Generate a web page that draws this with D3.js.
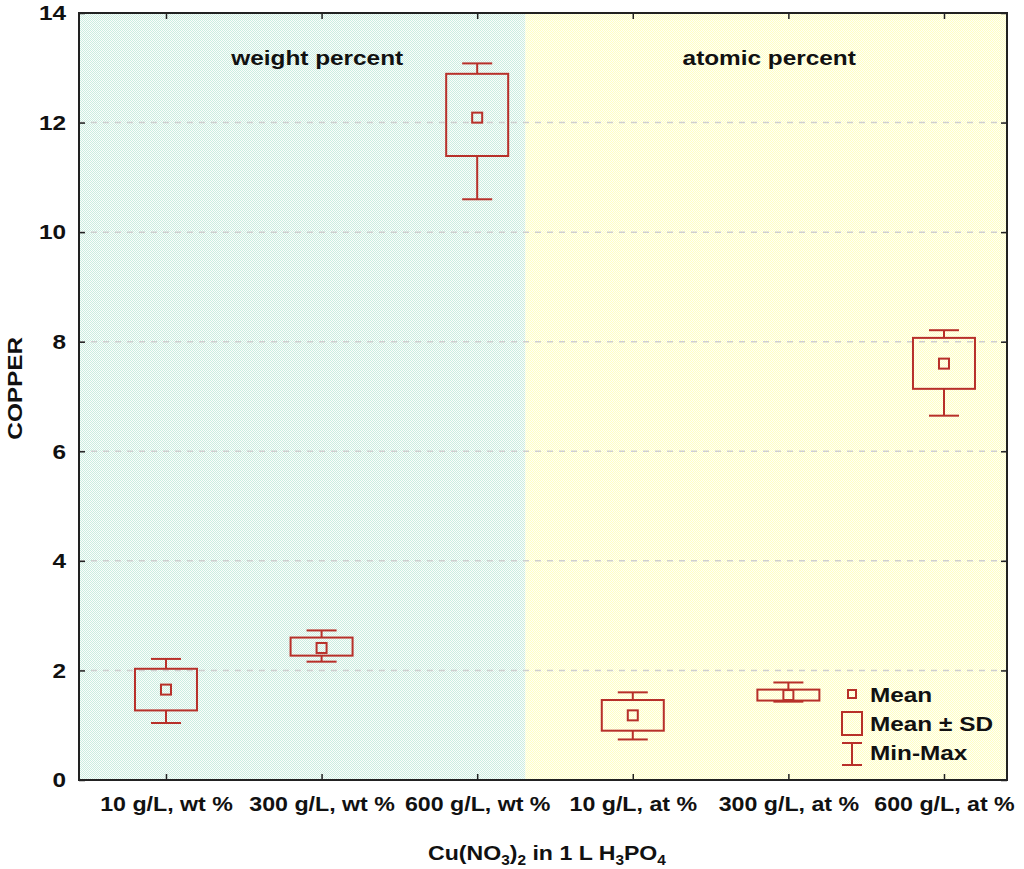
<!DOCTYPE html>
<html>
<head>
<meta charset="utf-8">
<script src="https://cdn.jsdelivr.net/npm/d3@7"></script>
<style>
  body { margin: 0; background: #fff; }
  text { font-family: "Liberation Sans", Arial, sans-serif; font-weight: bold; fill: #111; }
</style>
</head>
<body>
<div id="chart"></div>
<script>
// values
var categories = ["10 g/L, wt %", "300 g/L, wt %", "600 g/L, wt %", "10 g/L, at %", "300 g/L, at %", "600 g/L, at %"];
var means  = [1.65, 2.41, 12.09, 1.18, 1.55, 7.60];
var sdLow  = [1.27, 2.27, 11.39, 0.90, 1.45, 7.14];
var sdHigh = [2.03, 2.60, 12.89, 1.46, 1.65, 8.07];
var mins   = [1.04, 2.16, 10.60, 0.74, 1.43, 6.65];
var maxs   = [2.21, 2.73, 13.08, 1.60, 1.78, 8.21];
var yTicks = [0, 2, 4, 6, 8, 10, 12, 14];
var regions = [
  {name: "weight percent", from: 0.441, to: 3.31, fill: "url(#greenDots)"},
  {name: "atomic percent", from: 3.31, to: 6.405, fill: "url(#yellowDots)"}
];
var legendItems = ["Mean", "Mean \u00b1 SD", "Min-Max"];

var width = 1024, height = 869;
var margin = {left: 79, right: 17, top: 13, bottom: 89};
var red = "#b8302a";
var titleShift = [15, 3];
var stretch = 'scale(1.16,1)'; // the original lettering is wider than Liberation Sans

var svg = d3.select('#chart').append('svg')
  .attr('width', width)
  .attr('height', height);

var defs = svg.append('defs');
function dots(id, bg, fg) {
  var p = defs.append('pattern').attr('id', id)
    .attr('width', 2).attr('height', 2)
    .attr('patternUnits', 'userSpaceOnUse');
  p.append('rect').attr('width', 2).attr('height', 2).attr('fill', bg);
  p.append('rect').attr('width', 1).attr('height', 1).attr('fill', fg);
  p.append('rect').attr('x', 1).attr('y', 1).attr('width', 1).attr('height', 1).attr('fill', fg);
}
dots('greenDots', '#fafdfb', '#cbede0');
dots('yellowDots', '#fffff6', '#ffffc4');

var x = d3.scaleLinear().domain([0.441, 6.405]).range([margin.left, width - margin.right]);
var y = d3.scaleLinear().domain([0, 14]).range([height - margin.bottom, margin.top]);

// background regions
svg.selectAll('rect.region')
  .data(regions)
  .enter().append('rect')
  .attr('class', 'region')
  .attr('x', function(d) { return x(d.from); })
  .attr('y', y(14))
  .attr('width', function(d) { return x(d.to) - x(d.from); })
  .attr('height', y(0) - y(14))
  .attr('fill', function(d) { return d.fill; });

// grid
svg.append('g')
  .selectAll('line')
  .data(yTicks.filter(function(t) { return t > 0 && t < 14; }))
  .enter().append('line')
  .attr('x1', x.range()[0]).attr('x2', x.range()[1])
  .attr('y1', function(d) { return y(d); })
  .attr('y2', function(d) { return y(d); })
  .attr('stroke', '#cfcfcf')
  .attr('stroke-width', 1.5)
  .attr('stroke-dasharray', '6,6');

// region titles
svg.selectAll('text.region')
  .data(regions)
  .enter().append('text')
  .attr('class', 'region')
  .attr('transform', function(d, i) {
    return 'translate(' + ((x(d.from) + x(d.to)) / 2 + titleShift[i]) + ',' + y(13.05) + ') ' + stretch;
  })
  .attr('text-anchor', 'middle')
  .style('font-size', '21px')
  .text(function(d) { return d.name; });

// axes, ticks inside
var idx = d3.range(1, categories.length + 1);
var xAxis = d3.axisBottom(x).tickValues(idx).tickSize(-6).tickFormat(function(d) { return categories[d - 1]; });
var yAxis = d3.axisLeft(y).tickValues(yTicks).tickSize(-6).tickFormat(d3.format('d'));

var gx = svg.append('g').attr('transform', 'translate(0,' + y(0) + ')').call(xAxis);
gx.selectAll('text').attr('y', 0).attr('dy', 0)
  .attr('transform', 'translate(0,31) ' + stretch)
  .style('font-size', '20px');
var gy = svg.append('g').attr('transform', 'translate(' + x.range()[0] + ',0)').call(yAxis);
gy.selectAll('text').attr('x', 0)
  .attr('transform', 'translate(-13,0) ' + stretch)
  .style('font-size', '21px');
svg.append('g').attr('transform', 'translate(0,' + y(14) + ')')
  .call(d3.axisTop(x).tickValues(idx).tickSize(-6).tickFormat(''));
svg.append('g').attr('transform', 'translate(' + x.range()[1] + ',0)')
  .call(d3.axisRight(y).tickValues(yTicks).tickSize(-6).tickFormat(''));
svg.selectAll('.domain').remove();
svg.selectAll('.tick line').attr('stroke', '#222').attr('stroke-width', 1.5);
svg.selectAll('.tick text').attr('fill', '#111');

svg.append('rect')
  .attr('x', x.range()[0]).attr('y', y(14))
  .attr('width', x.range()[1] - x.range()[0])
  .attr('height', y(0) - y(14))
  .attr('fill', 'none')
  .attr('stroke', '#222')
  .attr('stroke-width', 2);

// boxes
var boxW = 62, capW = 30, meanS = 10;
var boxes = svg.append('g').selectAll('g')
  .data(idx)
  .enter().append('g')
  .attr('fill', 'none')
  .attr('stroke', red)
  .attr('stroke-width', 2);

boxes.append('line')
  .attr('x1', function(d) { return x(d); }).attr('x2', function(d) { return x(d); })
  .attr('y1', function(d) { return y(maxs[d - 1]); })
  .attr('y2', function(d) { return y(sdHigh[d - 1]); });
boxes.append('line')
  .attr('x1', function(d) { return x(d); }).attr('x2', function(d) { return x(d); })
  .attr('y1', function(d) { return y(sdLow[d - 1]); })
  .attr('y2', function(d) { return y(mins[d - 1]); });
boxes.append('line')
  .attr('x1', function(d) { return x(d) - capW / 2; }).attr('x2', function(d) { return x(d) + capW / 2; })
  .attr('y1', function(d) { return y(maxs[d - 1]); })
  .attr('y2', function(d) { return y(maxs[d - 1]); });
boxes.append('line')
  .attr('x1', function(d) { return x(d) - capW / 2; }).attr('x2', function(d) { return x(d) + capW / 2; })
  .attr('y1', function(d) { return y(mins[d - 1]); })
  .attr('y2', function(d) { return y(mins[d - 1]); });
boxes.append('rect')
  .attr('x', function(d) { return x(d) - boxW / 2; })
  .attr('y', function(d) { return y(sdHigh[d - 1]); })
  .attr('width', boxW)
  .attr('height', function(d) { return y(sdLow[d - 1]) - y(sdHigh[d - 1]); });
boxes.append('rect')
  .attr('x', function(d) { return x(d) - meanS / 2; })
  .attr('y', function(d) { return y(means[d - 1]) - meanS / 2; })
  .attr('width', meanS).attr('height', meanS);

// legend
var lg = svg.append('g').attr('transform', 'translate(852,694)');
var lgItems = lg.selectAll('g').data(legendItems).enter().append('g')
  .attr('transform', function(d, i) { return 'translate(18,' + (i * 29) + ') ' + stretch; });
lgItems.append('text')
  .attr('dy', '0.36em')
  .style('font-size', '21px')
  .text(function(d) { return d; });
lg.append('rect').attr('x', -4).attr('y', -4).attr('width', 8).attr('height', 8)
  .attr('fill', 'none').attr('stroke', red).attr('stroke-width', 2);
lg.append('rect').attr('x', -10).attr('y', 18).attr('width', 20).attr('height', 23)
  .attr('fill', 'none').attr('stroke', red).attr('stroke-width', 2);
lg.append('path').attr('d', 'M-10,49H10M0,49V71M-10,71H10')
  .attr('fill', 'none').attr('stroke', red).attr('stroke-width', 2);

// axis titles
var title = svg.append('text')
  .attr('transform', 'translate(' + ((x.range()[0] + x.range()[1]) / 2 + 4) + ',860) scale(1.1,1)')
  .attr('text-anchor', 'middle')
  .style('font-size', '21px');
title.append('tspan').text('Cu(NO');
title.append('tspan').attr('dy', 5).style('font-size', '14px').text('3');
title.append('tspan').attr('dy', -5).text(')');
title.append('tspan').attr('dy', 5).style('font-size', '14px').text('2');
title.append('tspan').attr('dy', -5).text(' in 1 L H');
title.append('tspan').attr('dy', 5).style('font-size', '14px').text('3');
title.append('tspan').attr('dy', -5).text('PO');
title.append('tspan').attr('dy', 5).style('font-size', '14px').text('4');

svg.append('text')
  .attr('transform', 'translate(22,' + y(7.15) + ') rotate(-90) ' + stretch)
  .attr('text-anchor', 'middle')
  .style('font-size', '21px')
  .text('COPPER');
</script>
</body>
</html>
